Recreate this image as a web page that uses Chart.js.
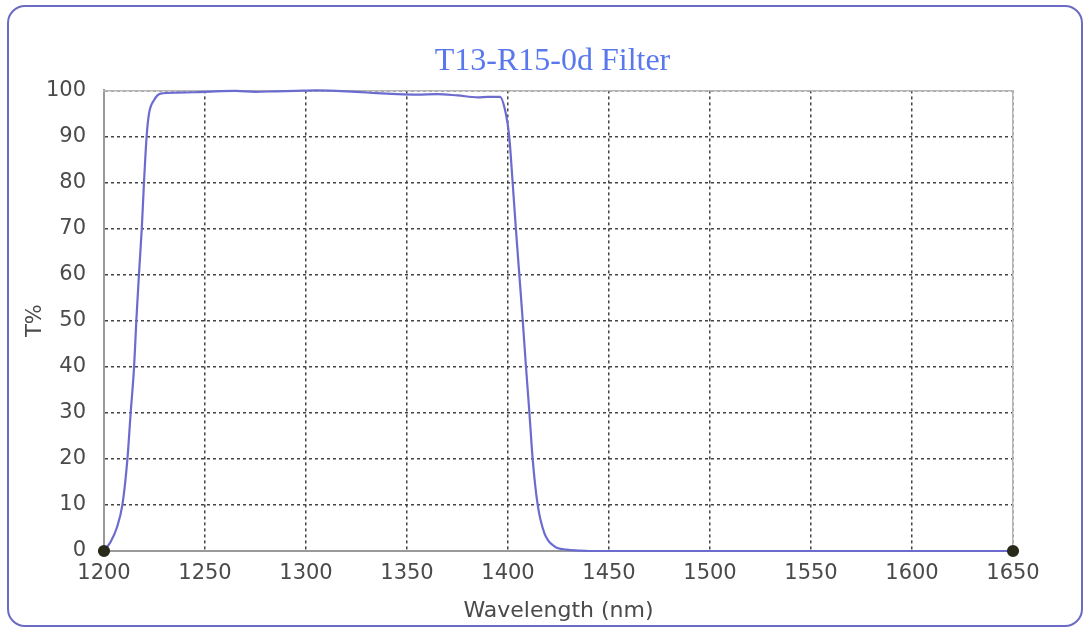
<!DOCTYPE html>
<html>
<head>
<meta charset="utf-8">
<script src="https://cdn.jsdelivr.net/npm/chart.js@4/dist/chart.umd.min.js"></script>
<style>
  body { margin: 0; background: #fff; }
  #wrap { position: relative; width: 1089px; height: 634px; }
  #frame { position: absolute; left: 7px; top: 5px; width: 1076px; height: 622px;
           border: 2px solid #6b6bc4; border-radius: 18px; box-sizing: border-box; }
  #myChart { position: absolute; left: 0; top: 0; }
</style>
</head>
<body>
<div id="wrap">
  <div id="frame"></div>
  <canvas id="myChart" width="1089" height="634"></canvas>
</div>
<script>
// wavelength (nm) and transmission (%)
const wavelength = [1200, 1203.3, 1206.3, 1209.1, 1211.6, 1213.2, 1214.9, 1216, 1217.3, 1218.7, 1219.8,
    1221.1, 1222.3, 1224.8, 1228, 1236, 1245, 1255, 1265, 1275, 1285, 1295, 1305, 1315,
    1325, 1335, 1345, 1355, 1365, 1375, 1385, 1390, 1396, 1399, 1400.6, 1402.3, 1403.9, 1405.6,
    1407.3, 1408.9, 1410.6, 1412.2, 1414.7, 1418, 1423, 1429, 1435, 1440, 1650];
const transmission = [0, 2, 5, 10, 20, 30, 40, 50, 60, 70, 80,
    90, 95, 97.9, 99.3, 99.5, 99.6, 99.8, 99.9, 99.7, 99.8, 99.9, 100, 99.9,
    99.7, 99.4, 99.2, 99.1, 99.2, 98.9, 98.5, 98.6, 98.6, 94.8, 90, 80, 70, 60,
    50, 40, 30, 20, 10, 3.9, 1, 0.3, 0.1, 0, 0];
const xTicks = [1200, 1250, 1300, 1350, 1400, 1450, 1500, 1550, 1600, 1650];
const yTicks = [0, 10, 20, 30, 40, 50, 60, 70, 80, 90, 100];

const points = wavelength.map((w, i) => ({ x: w, y: transmission[i] }));
const lastIdx = points.length - 1;

const tickFont = { family: 'DejaVu Sans', size: 21 };
const textColor = '#4a4a4a';
const gridStyle = { color: '#444', lineWidth: 1.5, drawTicks: false, tickLength: 0 };

const ctx = document.getElementById('myChart').getContext('2d');
const myChart = new Chart(ctx, {
    type: 'line',
    data: {
        datasets: [{
            label: 'T%',
            data: points,
            borderColor: '#6b6bd0',
            borderWidth: 2.2,
            tension: 0.3,
            cubicInterpolationMode: 'monotone',
            pointRadius: c => (c.dataIndex === 0 || c.dataIndex === lastIdx) ? 5 : 0,
            pointBackgroundColor: '#2a2a1a',
            pointBorderColor: '#2a2a1a',
            clip: false
        }]
    },
    options: {
        responsive: false,
        animation: false,
        layout: { padding: { left: 16, right: 0, top: 0, bottom: 0 } },
        plugins: {
            legend: { display: false },
            tooltip: { enabled: false },
            title: {
                display: true,
                text: 'T13-R15-0d Filter',
                color: '#5a78ee',
                font: { family: 'Liberation Serif', size: 32, weight: 'normal' },
                padding: { top: 42, bottom: 10 }
            }
        },
        scales: {
            x: {
                type: 'linear',
                min: 1200,
                max: 1650,
                afterBuildTicks: s => { s.ticks = xTicks.map(v => ({ value: v })); },
                afterFit: s => { s.height = 83; },
                grid: gridStyle,
                border: { display: true, color: '#999', width: 2, dash: [3, 3] },
                ticks: { color: textColor, font: tickFont, padding: 10, maxRotation: 0, callback: v => String(v) },
                title: { display: true, text: 'Wavelength (nm)', color: textColor, font: { family: 'DejaVu Sans', size: 22 }, padding: { top: 0, bottom: 10 } }
            },
            y: {
                min: 0,
                max: 100,
                afterBuildTicks: s => { s.ticks = yTicks.map(v => ({ value: v })); },
                afterFit: s => { s.width = 88; },
                grid: gridStyle,
                border: { display: true, color: '#999', width: 2, dash: [3, 3] },
                ticks: { color: textColor, font: tickFont, padding: 18, callback: v => String(v) },
                title: { display: true, text: 'T%', color: textColor, font: tickFont, padding: { top: 7, bottom: 0 } }
            },
            xTop: {
                type: 'linear', position: 'top', min: 1200, max: 1650,
                grid: { display: false }, ticks: { display: false },
                afterFit: s => { s.height = 0; },
                border: { display: true, color: '#b5b5b5', width: 1.5 }
            },
            yRight: {
                type: 'linear', position: 'right', min: 0, max: 100,
                grid: { display: false }, ticks: { display: false },
                afterFit: s => { s.width = 76; },
                border: { display: true, color: '#b5b5b5', width: 1.5 }
            }
        }
    }
});
</script>
</body>
</html>
